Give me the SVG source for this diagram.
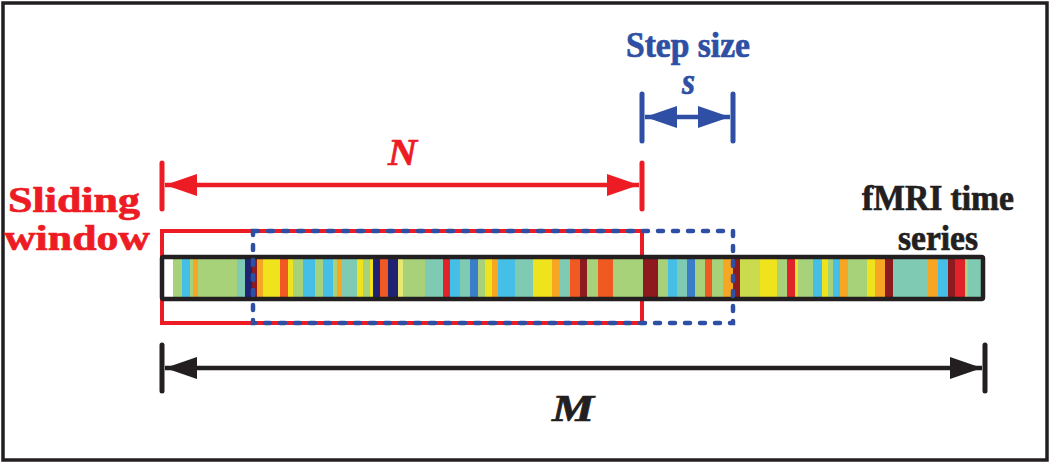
<svg xmlns="http://www.w3.org/2000/svg" width="1050" height="463" viewBox="0 0 1050 463">
<style>
.t{font-family:"Liberation Serif","Times New Roman",serif;font-weight:bold;font-size:35px;stroke-width:0.7}
.it{font-style:italic;font-size:37px}
.red{fill:#ed1c24;stroke:#ed1c24}.blue{fill:#2e4fa3;stroke:#2e4fa3}.blk{fill:#231f20;stroke:#231f20}
.LG{fill:#a8d27a}.C{fill:#46bfe6}.O{fill:#f6a623}.T{fill:#7fcab2}.NV{fill:#1f2372}.DR{fill:#8c1a1e}
.Y{fill:#efe31e}.RO{fill:#f05a22}.Y2{fill:#e6e870}.R{fill:#e0222a}.B{fill:#3a7ec8}.YG{fill:#cadc4e}
.ln{stroke-width:4.5;fill:none}
.tk{stroke-width:5;stroke-linecap:round;fill:none}
</style>
<defs>
<marker id="ahR" markerUnits="userSpaceOnUse" markerWidth="34" markerHeight="24" refX="32" refY="11" orient="auto-start-reverse"><path d="M0,0 L32,11 L0,22 Z" fill="#ed1c24"/></marker>
<marker id="ahB" markerUnits="userSpaceOnUse" markerWidth="34" markerHeight="24" refX="32" refY="11" orient="auto-start-reverse"><path d="M0,0 L32,11 L0,22 Z" fill="#2e4fa3"/></marker>
<marker id="ahK" markerUnits="userSpaceOnUse" markerWidth="34" markerHeight="24" refX="32" refY="11" orient="auto-start-reverse"><path d="M0,0 L32,11 L0,22 Z" fill="#231f20"/></marker>
</defs>
<rect x="3" y="3" width="1044" height="457" fill="#fff" stroke="#231f20" stroke-width="3.5"/>

<g id="sliding-window">
<rect x="162" y="231" width="480" height="92" fill="none" stroke="#ed1c24" stroke-width="4"/>
</g>

<g id="fmri-series">
<rect x="162" y="257" width="821" height="42" fill="#fff"/>
<g id="stripes">
<rect class="LG" x="173" y="259" width="9" height="38"/>
<rect class="C" x="182" y="259" width="8" height="38"/>
<rect class="LG" x="190" y="259" width="3" height="38"/>
<rect class="O" x="193" y="259" width="5" height="38"/>
<rect class="LG" x="198" y="259" width="39" height="38"/>
<rect class="T" x="237" y="259" width="8" height="38"/>
<rect class="NV" x="245" y="259" width="7" height="38"/>
<rect class="DR" x="252" y="259" width="5" height="38"/>
<rect class="O" x="257" y="259" width="6" height="38"/>
<rect class="Y" x="263" y="259" width="17" height="38"/>
<rect class="RO" x="280" y="259" width="8" height="38"/>
<rect class="Y" x="288" y="259" width="5" height="38"/>
<rect class="LG" x="293" y="259" width="10" height="38"/>
<rect class="C" x="303" y="259" width="12" height="38"/>
<rect class="LG" x="315" y="259" width="8" height="38"/>
<rect class="C" x="323" y="259" width="10" height="38"/>
<rect class="LG" x="333" y="259" width="4" height="38"/>
<rect class="O" x="337" y="259" width="5" height="38"/>
<rect class="T" x="342" y="259" width="15" height="38"/>
<rect class="Y" x="357" y="259" width="6" height="38"/>
<rect class="LG" x="363" y="259" width="7" height="38"/>
<rect class="Y" x="370" y="259" width="3" height="38"/>
<rect class="NV" x="373" y="259" width="7" height="38"/>
<rect class="RO" x="380" y="259" width="8" height="38"/>
<rect class="NV" x="388" y="259" width="10" height="38"/>
<rect class="Y2" x="398" y="259" width="5" height="38"/>
<rect class="LG" x="403" y="259" width="22" height="38"/>
<rect class="T" x="425" y="259" width="18" height="38"/>
<rect class="R" x="443" y="259" width="7" height="38"/>
<rect class="C" x="450" y="259" width="10" height="38"/>
<rect class="T" x="460" y="259" width="10" height="38"/>
<rect class="B" x="470" y="259" width="8" height="38"/>
<rect class="LG" x="478" y="259" width="7" height="38"/>
<rect class="Y" x="485" y="259" width="7" height="38"/>
<rect class="O" x="492" y="259" width="6" height="38"/>
<rect class="C" x="498" y="259" width="17" height="38"/>
<rect class="T" x="515" y="259" width="18" height="38"/>
<rect class="Y" x="533" y="259" width="19" height="38"/>
<rect class="O" x="552" y="259" width="8" height="38"/>
<rect class="T" x="560" y="259" width="10" height="38"/>
<rect class="RO" x="570" y="259" width="10" height="38"/>
<rect class="DR" x="580" y="259" width="7" height="38"/>
<rect class="LG" x="587" y="259" width="11" height="38"/>
<rect class="RO" x="598" y="259" width="15" height="38"/>
<rect class="LG" x="613" y="259" width="30" height="38"/>
<rect class="DR" x="643" y="259" width="15" height="38"/>
<rect class="LG" x="658" y="259" width="10" height="38"/>
<rect class="C" x="668" y="259" width="9" height="38"/>
<rect class="T" x="677" y="259" width="10" height="38"/>
<rect class="B" x="687" y="259" width="8" height="38"/>
<rect class="LG" x="695" y="259" width="10" height="38"/>
<rect class="RO" x="705" y="259" width="7" height="38"/>
<rect class="LG" x="712" y="259" width="11" height="38"/>
<rect class="O" x="723" y="259" width="10" height="38"/>
<rect class="DR" x="733" y="259" width="7" height="38"/>
<rect class="YG" x="740" y="259" width="20" height="38"/>
<rect class="Y" x="760" y="259" width="17" height="38"/>
<rect class="LG" x="777" y="259" width="10" height="38"/>
<rect class="R" x="787" y="259" width="8" height="38"/>
<rect class="Y" x="795" y="259" width="3" height="38"/>
<rect class="LG" x="798" y="259" width="15" height="38"/>
<rect class="C" x="813" y="259" width="9" height="38"/>
<rect class="Y" x="822" y="259" width="6" height="38"/>
<rect class="LG" x="828" y="259" width="5" height="38"/>
<rect class="C" x="833" y="259" width="7" height="38"/>
<rect class="O" x="840" y="259" width="8" height="38"/>
<rect class="LG" x="848" y="259" width="19" height="38"/>
<rect class="Y" x="867" y="259" width="8" height="38"/>
<rect class="O" x="875" y="259" width="10" height="38"/>
<rect class="DR" x="885" y="259" width="8" height="38"/>
<rect class="T" x="893" y="259" width="35" height="38"/>
<rect class="O" x="928" y="259" width="10" height="38"/>
<rect class="C" x="938" y="259" width="10" height="38"/>
<rect class="DR" x="948" y="259" width="7" height="38"/>
<rect class="R" x="955" y="259" width="10" height="38"/>
<rect class="LG" x="965" y="259" width="3" height="38"/>
<rect class="T" x="968" y="259" width="13" height="38"/>
</g>
<rect x="162" y="257" width="821" height="42" fill="none" stroke="#231f20" stroke-width="4.5" rx="1.5"/>
</g>

<g id="step-window">
<rect x="253" y="231" width="480" height="92" fill="none" stroke="#2e4fa3" stroke-width="4.5" stroke-dasharray="5 10" stroke-linecap="round"/>
</g>

<g id="connectors">
<line class="tk" x1="162" y1="163" x2="162" y2="209" stroke="#ed1c24"/>
<line class="tk" x1="642" y1="163" x2="642" y2="209" stroke="#ed1c24"/>
<line class="ln" x1="165" y1="185" x2="639" y2="185" stroke="#ed1c24" marker-start="url(#ahR)" marker-end="url(#ahR)"/>
<line class="tk" x1="642" y1="94" x2="642" y2="141" stroke="#2e4fa3"/>
<line class="tk" x1="733" y1="94" x2="733" y2="141" stroke="#2e4fa3"/>
<line class="ln" x1="645" y1="117" x2="730" y2="117" stroke="#2e4fa3" stroke-width="5" marker-start="url(#ahB)" marker-end="url(#ahB)"/>
<line class="tk" x1="162" y1="345" x2="162" y2="391" stroke="#231f20"/>
<line class="tk" x1="985" y1="345" x2="985" y2="391" stroke="#231f20"/>
<line class="ln" x1="165" y1="368" x2="982" y2="368" stroke="#231f20" marker-start="url(#ahK)" marker-end="url(#ahK)"/>
</g>

<g id="labels">
<text class="t red" x="8" y="212" textLength="132" lengthAdjust="spacingAndGlyphs">Sliding</text>
<text class="t red" x="4" y="250" textLength="146" lengthAdjust="spacingAndGlyphs">window</text>
<text class="t blk" x="862" y="210" textLength="152" lengthAdjust="spacingAndGlyphs">fMRI time</text>
<text class="t blk" x="898" y="250" textLength="80" lengthAdjust="spacingAndGlyphs">series</text>
<text class="t blue" x="626" y="57" textLength="124" lengthAdjust="spacingAndGlyphs">Step size</text>
<text class="t it blue" x="682" y="94" textLength="13" lengthAdjust="spacingAndGlyphs">s</text>
<text class="t it red" x="388" y="165" textLength="29" lengthAdjust="spacingAndGlyphs">N</text>
<text class="t it blk" x="552" y="421" textLength="42" lengthAdjust="spacingAndGlyphs">M</text>
</g>
</svg>
